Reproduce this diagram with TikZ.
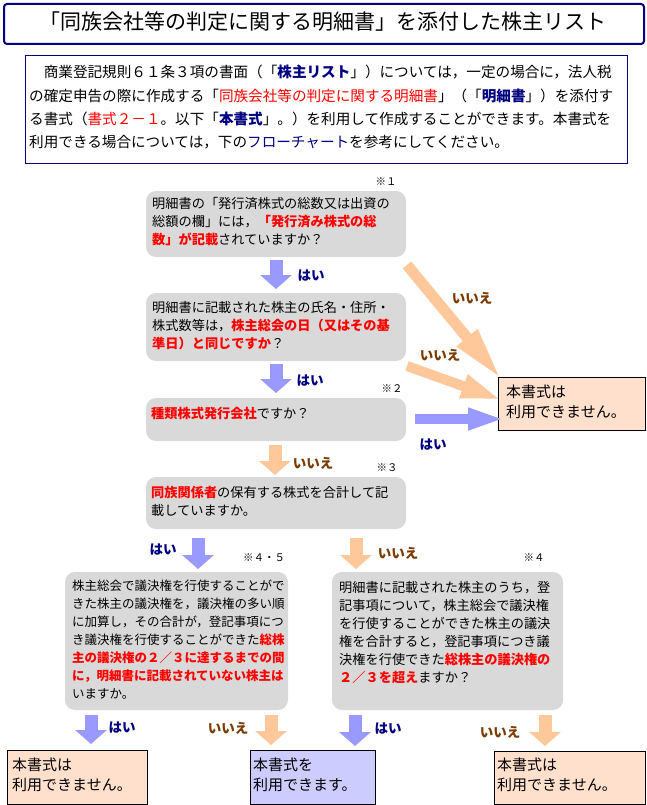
\documentclass[tikz,border=0pt]{standalone}
\usepackage{fontspec}
\setmainfont{Noto Sans CJK JP}
\usetikzlibrary{arrows.meta}
\definecolor{navy}{RGB}{0,0,128}
\definecolor{brownlbl}{RGB}{122,58,0}
\definecolor{boxgray}{RGB}{217,217,217}
\definecolor{arrblue}{RGB}{153,153,255}
\definecolor{arrorange}{RGB}{255,200,155}
\definecolor{peach}{RGB}{255,224,204}
\definecolor{lav}{RGB}{204,204,255}
\newcommand\rbf[1]{\textcolor{red}{\bfseries #1}}
\newcommand\nbf[1]{\textcolor{navy}{\bfseries #1}}
\newcommand\fst{\rule{0pt}{0.9em}}
\tikzset{
  qbox/.style={fill=boxgray, rounded corners=10pt, anchor=north west, inner sep=0pt, outer sep=0pt},
  rbox/.style={draw=black, line width=1pt, anchor=north west, inner sep=0pt},
  txt/.style={anchor=north west, inner sep=0pt, align=left},
  boxfont/.style={font=\fontsize{13.2}{18}\selectfont},
  resfont/.style={font=\fontsize{15}{19.5}\selectfont},
  lblyes/.style={font=\fontsize{13.5}{14}\selectfont\bfseries, text=navy, inner sep=0pt},
  lblno/.style={font=\fontsize{13.5}{14}\selectfont\bfseries, text=brownlbl, inner sep=0pt},
  note/.style={font=\fontsize{10.5}{12}\selectfont, inner sep=0pt},
  darrow/.style={line width=13pt, -{Triangle[width=31pt,length=14pt]}},
}
\begin{document}
\begin{tikzpicture}[x=1pt,y=-1pt]
\path[use as bounding box, fill=white] (0,0) rectangle (647,805);

% title
\node[draw=navy, line width=2pt, rounded corners=3pt, anchor=north west, minimum width=640pt, minimum height=40pt, inner sep=0pt] (titlebox) at (3,3) {};
\node[font=\fontsize{21}{24}\selectfont, inner sep=0pt] (title) at (323,22) {「同族会社等の判定に関する明細書」を添付した株主リスト};

% intro
\node[draw=navy, line width=1pt, anchor=north west, minimum width=602pt, minimum height=108pt, inner sep=0pt] (introbox) at (25,55) {};
\node[txt, font=\fontsize{14.6}{23.3}\selectfont] (intro) at (29,64.4) {\fst　商業登記規則６１条３項の書面（「\nbf{株主リスト}」）については，一定の場合に，法人税\\
の確定申告の際に作成する「\textcolor{red}{同族会社等の判定に関する明細書}」（「\nbf{明細書}」）を添付す\\
る書式（\textcolor{red}{書式２－１}。以下「\nbf{本書式}」。）を利用して作成することができます。本書式を\\
利用できる場合については，下の\textcolor{navy}{フローチャート}を参考にしてください。};

% question boxes
\node[qbox, minimum width=260pt, minimum height=66pt] (q1) at (146,191) {};
\node[txt, boxfont] (q1t) at (152,196.1) {\fst 明細書の「発行済株式の総数又は出資の\\
総額の欄」には，\rbf{「発行済み株式の総}\\
\rbf{数」が記載}されていますか？};

\node[qbox, minimum width=260pt, minimum height=68pt] (q2) at (146,293) {};
\node[txt, boxfont] (q2t) at (152,300.1) {\fst 明細書に記載された株主の氏名・住所・\\
株式数等は，\rbf{株主総会の日（又はその基}\\
\rbf{準日）と同じですか}？};

\node[qbox, minimum width=260pt, minimum height=43pt] (q3) at (146,398) {};
\node[txt, boxfont] (q3t) at (151,406.1) {\fst\rbf{種類株式発行会社}ですか？};

\node[qbox, minimum width=260pt, minimum height=52pt] (q4) at (146,477) {};
\node[txt, boxfont] (q4t) at (151,485.1) {\fst\rbf{同族関係者}の保有する株式を合計して記\\
載していますか。};

\node[qbox, minimum width=223pt, minimum height=138pt] (q5) at (65,572) {};
\node[txt, font=\fontsize{12.5}{18}\selectfont] (q5t) at (72,579.5) {\fst 株主総会で議決権を行使することがで\\
きた株主の議決権を，議決権の多い順\\
に加算し，その合計が，登記事項につ\\
き議決権を行使することができた\rbf{総株}\\
\rbf{主の議決権の２／３に達するまでの間}\\
\rbf{に，明細書に記載されていない株主は}\\
いますか。};

\node[qbox, minimum width=231pt, minimum height=138pt] (q6) at (332,572) {};
\node[txt, boxfont] (q6t) at (339,580.1) {\fst 明細書に記載された株主のうち，登\\
記事項について，株主総会で議決権\\
を行使することができた株主の議決\\
権を合計すると，登記事項につき議\\
決権を行使できた\rbf{総株主の議決権の}\\
\rbf{２／３を超え}ますか？};

% notes
\node[note] (n1) at (386,182) {※１};
\node[note] (n2) at (392,389) {※２};
\node[note] (n3) at (387,468) {※３};
\node[note] (n45) at (264,558) {※４・５};
\node[note] (n4) at (534,558) {※４};

% result boxes
\node[rbox, fill=peach, minimum width=147pt, minimum height=53pt] (r1) at (498,377) {};
\node[txt, resfont] (r1t) at (506,384.2) {\fst 本書式は\\利用できません。};

\node[rbox, fill=peach, minimum width=140pt, minimum height=54pt] (r2) at (7,750) {};
\node[txt, resfont] (r2t) at (12,757.2) {\fst 本書式は\\利用できません。};

\node[rbox, fill=lav, minimum width=125pt, minimum height=54pt] (r3) at (250,750) {};
\node[txt, resfont] (r3t) at (253,757.2) {\fst 本書式を\\利用できます。};

\node[rbox, fill=peach, minimum width=151pt, minimum height=53pt] (r4) at (494,751) {};
\node[txt, resfont] (r4t) at (497,757.2) {\fst 本書式は\\利用できません。};

% arrow end points
\coordinate (a1s) at (276,260); \coordinate (a1e) at (276,289);
\coordinate (a2s) at (276,364); \coordinate (a2e) at (276,393);
\coordinate (a3s) at (275,445); \coordinate (a3e) at (275,475);
\coordinate (a4s) at (198,538); \coordinate (a4e) at (198,569);
\coordinate (a5s) at (356,538); \coordinate (a5e) at (356,569);
\coordinate (b1s) at (91,715);  \coordinate (b1e) at (91,744);
\coordinate (b2s) at (271,715); \coordinate (b2e) at (271,745);
\coordinate (b3s) at (355,715); \coordinate (b3e) at (355,746);
\coordinate (b4s) at (545,715); \coordinate (b4e) at (545,746);
\coordinate (hs) at (415,419);  \coordinate (he) at (505,419);
\coordinate (d1s) at (407,265); \coordinate (d1e) at (502,380);
\coordinate (d2s) at (407,366); \coordinate (d2e) at (502,400);

% arrows
\draw[darrow, arrblue] (a1s) -- (a1e);
\draw[darrow, arrblue] (a2s) -- (a2e);
\draw[darrow, arrorange] (a3s) -- (a3e);
\draw[darrow, arrblue] (a4s) -- (a4e);
\draw[darrow, arrorange] (a5s) -- (a5e);
\draw[darrow, arrblue] (b1s) -- (b1e);
\draw[darrow, arrorange] (b2s) -- (b2e);
\draw[darrow, arrblue] (b3s) -- (b3e);
\draw[darrow, arrorange] (b4s) -- (b4e);
\draw[arrblue, line width=9.5pt, -{Triangle[width=20pt,length=37pt]}] (hs) -- (he);
\draw[arrorange, line width=11pt, -{Triangle[width=24pt,length=55pt]}] (d1s) -- (d1e);
\draw[arrorange, line width=10pt, -{Triangle[width=22pt,length=41pt]}] (d2s) -- (d2e);

% labels
\node[lblyes] (y1) at (311,276) {はい};
\node[lblyes] (y2) at (310,381) {はい};
\node[lblyes] (y3) at (433,445) {はい};
\node[lblyes] (y4) at (163,550) {はい};
\node[lblyes] (y5) at (122,728) {はい};
\node[lblyes] (y6) at (388,729) {はい};
\node[lblno] (x1) at (472,298) {いいえ};
\node[lblno] (x2) at (440,355) {いいえ};
\node[lblno] (x3) at (313,463) {いいえ};
\node[lblno] (x4) at (398,553) {いいえ};
\node[lblno] (x5) at (228,728) {いいえ};
\node[lblno] (x6) at (500,732) {いいえ};
\end{tikzpicture}
\end{document}
